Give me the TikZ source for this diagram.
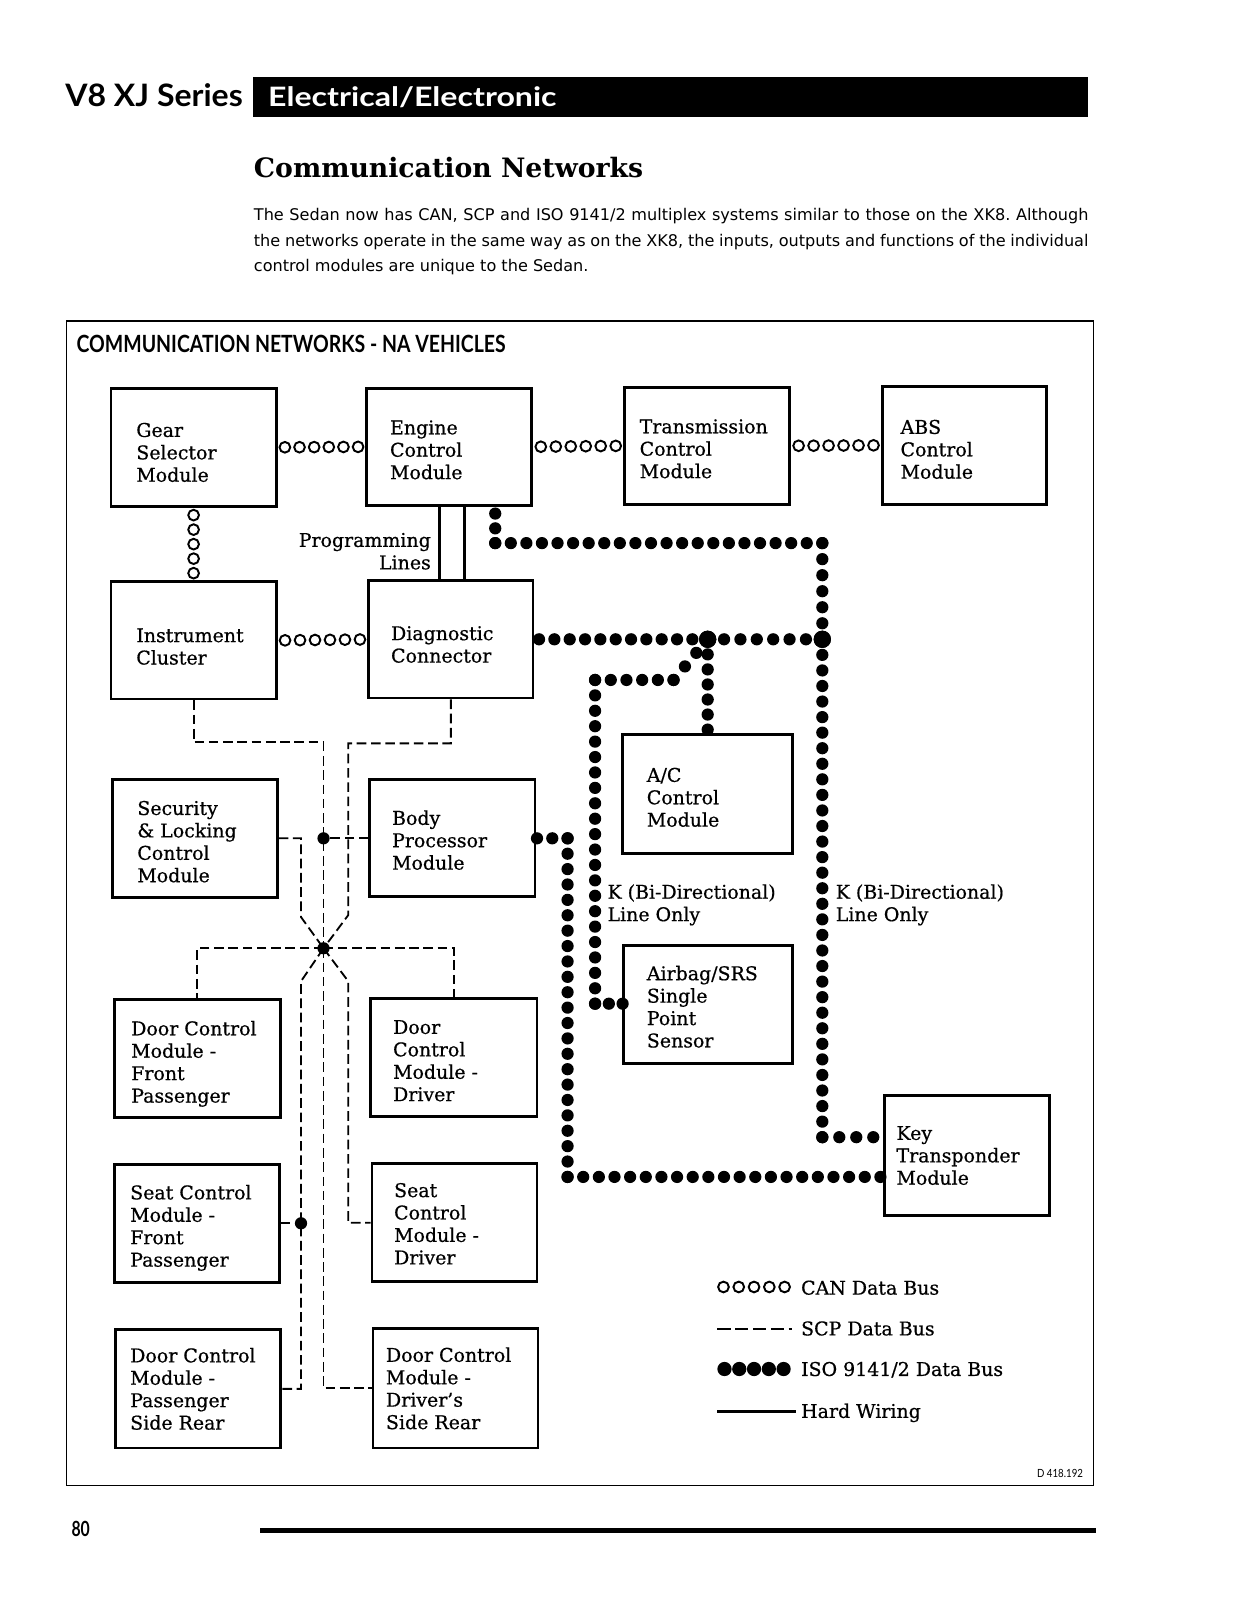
\documentclass[tikz,border=0pt]{standalone}
\usepackage{fontspec}
\setmainfont{DejaVu Serif}[FakeBold=0.6]
\newfontfamily\titlefont{DejaVu Serif}
\newfontfamily\hfont{Lato}
\newfontfamily\pfont{DejaVu Sans}
\usetikzlibrary{calc}

\tikzset{
  modbox/.style={draw, line width=2.8pt, inner sep=0pt, rectangle},
  boxtext/.style={inner sep=0pt, align=left, font=\fontsize{18.6}{22}\selectfont, anchor=west},
  legtext/.style={inner sep=0pt, font=\fontsize{18.6}{22}\selectfont, anchor=base west},
  ring/.style={circle, draw, line width=1.9pt, minimum size=10.5pt, inner sep=0pt},
  scp/.style={line width=1.8pt, dash pattern=on 9.5pt off 4.5pt},
  hard/.style={line width=2.8pt},
  bigdot/.style={circle, fill, inner sep=0pt, minimum size=17pt},
  scpdot/.style={circle, fill, inner sep=0pt, minimum size=12pt},
}

\newcommand\modbox[8][0]{%
  \node[modbox, minimum width={#5-#3}, minimum height={#6-#4}] (#2) at ({(#3+#5)/2},{(#4+#6)/2}) {};
  \node[boxtext] (#2t) at ([xshift=#7pt,yshift=-#1pt]#2.west) {#8};
}
\newcommand\canrow[4]{%
  \foreach \i in {1,...,#4} \node[ring] (can#1\i) at ($(#2)!{(\i-0.5)/#4}!(#3)$) {};
}
\newcommand\isoseg[2]{%
  \path let \p1=($(#2)-(#1)$), \n1={veclen(\x1,\y1)} in
    \pgfextra{\pgfmathtruncatemacro\isocount{max(1,round(\n1/15.3))}\global\let\isocountg\isocount};
  \foreach \i in {0,...,\isocountg} \fill ($(#1)!{\i/\isocountg}!(#2)$) circle[radius=6pt];
}

\begin{document}
\begin{tikzpicture}[x=1pt,y=-1pt]
\fill[white] (0,0) rectangle (1212,1570.2);
\useasboundingbox (0,0) rectangle (1212,1570.2);

% ---------- page header ----------
\node[anchor=base west, inner sep=0pt] (series) at (64,104.7) {\resizebox{174pt}{22.5pt}{\hfont\bfseries V8 XJ Series}};
\fill (248.5,76) rectangle (1068,115);
\node[anchor=base west, inner sep=0pt, text=white] (elec) at (263,104.7) {\resizebox{283pt}{19.5pt}{\hfont\bfseries Electrical/Electronic}};
\node[anchor=base west, inner sep=0pt] (title) at (249,174) {\resizebox{382pt}{!}{\titlefont\bfseries\fontsize{28}{30}\selectfont Communication Networks}};
\node[anchor=north west, inner sep=0pt, text width=819pt, align=justify, font={\pfont\fontsize{15.8}{24.8}\selectfont\frenchspacing}] (para) at (249,204.5)
 {The Sedan now has CAN, SCP and ISO 9141/2 multiplex systems similar to those on the XK8. Although\linebreak
 the networks operate in the same way as on the XK8, the inputs, outputs and functions of the individual\linebreak
 control modules are unique to the Sedan.};

% ---------- frame ----------
\draw[line width=1.3pt] (65,315) rectangle (1073,1458);
\node[anchor=base west, inner sep=0pt] (ftitle) at (75,346) {\resizebox{421pt}{17pt}{\hfont\bfseries COMMUNICATION NETWORKS - NA VEHICLES}};

% ---------- modules ----------
\modbox[5]{gear}{109}{381}{271}{497}{26}{Gear\\Selector\\Module}
\modbox[3]{engine}{360}{381}{522}{496}{24}{Engine\\Control\\Module}
\modbox[3]{trans}{613}{380}{775}{495}{16}{Transmission\\Control\\Module}
\modbox[4]{abs}{866}{379}{1027}{495}{19}{ABS\\Control\\Module}
\modbox[6]{ic}{109}{571}{271}{686}{26}{Instrument\\Cluster}
\modbox[5]{diag}{362}{570}{523}{685}{23}{Diagnostic\\Connector}
\modbox[3]{sec}{110}{765}{272}{881}{26}{Security\\\& Locking\\Control\\Module}
\modbox[2]{body}{363}{765}{525}{880}{23}{Body\\Processor\\Module}
\modbox[3]{ac}{611}{721}{778}{838}{25}{A/C\\Control\\Module}
\modbox[2]{airbag}{612}{928}{778}{1044}{24}{Airbag/SRS\\Single\\Point\\Sensor}
\modbox[5]{doorfp}{112}{981}{275}{1097}{18}{Door Control\\Module -\\Front\\Passenger}
\modbox[3]{dcd}{364}{980}{527}{1096}{23}{Door\\Control\\Module -\\Driver}
\modbox[4]{seatfp}{112}{1143}{274}{1259}{17}{Seat Control\\Module -\\Front\\Passenger}
\modbox[1]{seatd}{365}{1142}{527}{1258}{23}{Seat\\Control\\Module -\\Driver}
\modbox[0]{dpsr}{113}{1305}{275}{1421}{16}{Door Control\\Module -\\Passenger\\Side Rear}
\modbox[0]{ddsr}{366}{1304}{528}{1421}{14}{Door Control\\Module -\\Driver’s\\Side Rear}
\modbox[0]{key}{868}{1075}{1030}{1193}{13}{Key\\Transponder\\Module}

% ---------- CAN bus ----------
\canrow{ge}{gear.east}{engine.west}{6}
\canrow{et}{engine.east}{trans.west}{6}
\canrow{ta}{trans.east}{abs.west}{6}
\canrow{gi}{gear.south}{ic.north}{5}
\canrow{id}{ic.east}{diag.west}{6}

% ---------- programming lines (hard wiring) ----------
\coordinate (pl1) at (431,0);
\coordinate (pl2) at (455.5,0);
\draw[hard] (engine.south -| pl1) -- (diag.north -| pl1);
\draw[hard] (engine.south -| pl2) -- (diag.north -| pl2);
\node[boxtext, anchor=east, align=right] (prog) at (423,541) {Programming\\Lines};

% ---------- ISO 9141/2 bus ----------
\coordinate (i0) at (486,504);
\coordinate (i1) at (486,533);
\coordinate (i2) at (807,533);
\node[bigdot] (J2) at (807,627.4) {};
\coordinate (i3) at (807,1116);
\coordinate (i4) at (857,1116);
\coordinate (i5) at (529,627.4);
\node[bigdot] (J1) at (694.5,627.4) {};
\coordinate (i6) at (661,667.3);
\coordinate (i7) at (584,667.3);
\coordinate (i8) at (584,985);
\coordinate (i9) at (611,985);
\coordinate (i10) at (694.5,716);
\coordinate (i11) at (527,822.7);
\coordinate (i12) at (557,822.7);
\coordinate (i13) at (557,1155);
\coordinate (i14) at (864,1155);
\isoseg{i0}{i1}\isoseg{i1}{i2}\isoseg{i2}{J2}\isoseg{J2}{i3}\isoseg{i3}{i4}
\isoseg{i5}{J1}\isoseg{J1}{J2}
\isoseg{J1}{i6}\isoseg{i6}{i7}\isoseg{i7}{i8}\isoseg{i8}{i9}
\isoseg{J1}{i10}
\isoseg{i11}{i12}\isoseg{i12}{i13}\isoseg{i13}{i14}
\node[bigdot] (J1b) at (J1) {};
\node[bigdot] (J2b) at (J2) {};
\node[boxtext] (kl1) at (596,888) {K (Bi-Directional)\\Line Only};
\node[boxtext] (kl2) at (820,888) {K (Bi-Directional)\\Line Only};

% ---------- SCP bus ----------
\node[scpdot] (D1) at (317.5,822.7) {};
\node[scpdot] (J3) at (317.5,930.6) {};
\node[scpdot] (D2) at (295.4,1200.5) {};
\coordinate (l1) at (317.5,728.5);
\coordinate (r1) at (341.8,729.5);
\coordinate (r2) at (341.8,898);
\coordinate (q1) at (295.4,822.7);
\coordinate (q2) at (295.4,900);
\coordinate (q3) at (295.4,963);
\coordinate (r3) at (341.8,963);
\draw[scp] (ic.south) |- (l1) -- (D1.center) -- (J3.center);
\draw[scp] (diag.south) |- (r1) -- (r2) -- (J3.center);
\draw[scp] (sec.east |- D1) -- (q1) -- (q2) -- (J3.center);
\draw[scp] (body.west |- D1) -- (D1.center);
\draw[scp] (J3.center) -| (doorfp.north);
\draw[scp] (J3.center) -| (dcd.north);
\draw[scp] (J3.center) -- (q3) -- (D2.center) |- (dpsr.east);
\draw[scp] (seatfp.east |- D2) -- (D2.center);
\draw[scp] (J3.center) |- (ddsr.west);
\draw[scp] (J3.center) -- (r3) |- (seatd.west);

% ---------- legend ----------
\foreach \k in {0,...,4} \node[ring] (lgc\k) at ({710+15*\k},1263) {};
\node[legtext] (lgt1) at (786,1270.5) {CAN Data Bus};
\coordinate (lgs1) at (704,1304);
\coordinate (lgs2) at (777,1304);
\draw[scp, dash pattern=on 13pt off 4.5pt] (lgs1) -- (lgs2);
\node[legtext] (lgt2) at (786,1310.5) {SCP Data Bus};
\foreach \k in {0,...,4} \fill ({711+14.5*\k},1343.5) circle[radius=7pt];
\node[legtext] (lgt3) at (786,1350.3) {ISO 9141/2 Data Bus};
\coordinate (lgh1) at (704,1385);
\coordinate (lgh2) at (781,1385);
\draw[hard] (lgh1) -- (lgh2);
\node[legtext] (lgt4) at (786,1391.5) {Hard Wiring};

\node[anchor=base east, inner sep=0pt] (dnum) at (1063,1450) {\resizebox{45pt}{8pt}{\hfont D 418.192}};

% ---------- footer ----------
\node[anchor=base west, inner sep=0pt] (pgnum) at (70,1508) {\resizebox{18pt}{15pt}{\hfont\bfseries 80}};
\fill (255,1500) rectangle (1076,1504.5);
\end{tikzpicture}
\end{document}
